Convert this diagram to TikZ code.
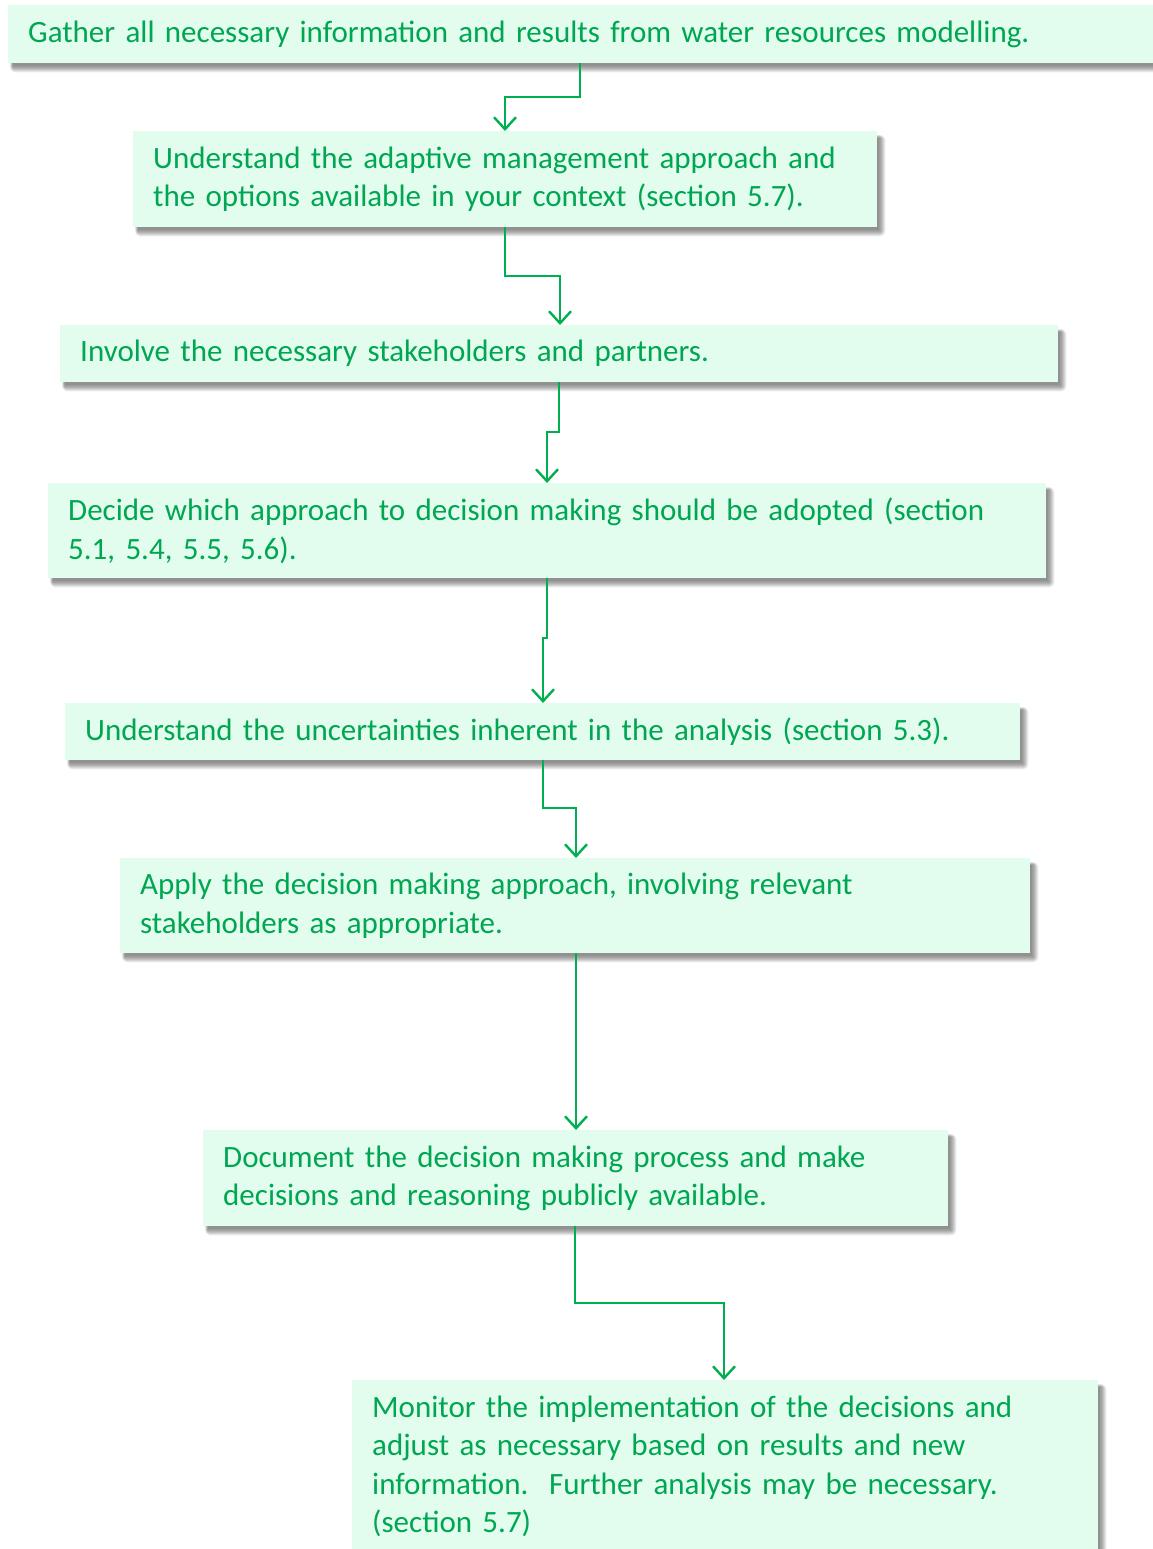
\documentclass[tikz,border=0pt]{standalone}
\usepackage{fontspec}
\setmainfont{Carlito}
\usetikzlibrary{arrows.meta,calc,backgrounds}
\definecolor{boxfill}{RGB}{226,253,238}
\definecolor{txtgreen}{RGB}{0,166,81}
\definecolor{arrgreen}{RGB}{0,176,80}
\tikzset{
  stepbox/.style={draw=none, fill=boxfill, anchor=north west, inner xsep=20pt, inner ysep=0pt,
    align=left, text=txtgreen, font=\fontsize{31}{38.5}\selectfont},
  conn/.style={draw=arrgreen, line width=2.4pt, -{Straight Barb[length=12pt,width=22pt,line width=2.4pt]}},
}
\newcommand{\mkbox}[6]{% name, x1, y1, x2, y2, text
  \pgfmathsetmacro{\bw}{#4-#2}\pgfmathsetmacro{\bh}{#5-#3}\pgfmathsetmacro{\tw}{#4-#2-40}
  \node[stepbox, minimum width=\bw pt, minimum height=\bh pt, text width=\tw pt] (#1) at (#2,#3) {#6};}
\begin{document}
\begin{tikzpicture}[x=1pt,y=-1pt]
\useasboundingbox (0,0) rectangle (1152,1549);
\mkbox{b1}{8}{5}{1170}{63}{Gather all necessary information and results from water resources modelling.}
\mkbox{b2}{133}{131}{877}{227}{Understand the adaptive management approach and\\the options available in your context (section 5.7).}
\mkbox{b3}{60}{325}{1058}{382}{Involve the necessary stakeholders and partners.}
\mkbox{b4}{48}{483}{1046}{578}{Decide which approach to decision making should be adopted (section\\5.1, 5.4, 5.5, 5.6).}
\mkbox{b5}{65}{703}{1020}{760}{Understand the uncertainties inherent in the analysis (section 5.3).}
\mkbox{b6}{120}{858}{1030}{953}{Apply the decision making approach, involving relevant\\stakeholders as appropriate.}
\mkbox{b7}{203}{1130}{948}{1226}{Document the decision making process and make\\decisions and reasoning publicly available.}
\mkbox{b8}{352}{1380}{1098}{1552}{Monitor the implementation of the decisions and\\adjust as necessary based on results and new\\information.\ \ Further analysis may be necessary.\\(section 5.7)}
\begin{pgfonlayer}{background}
\foreach \n in {b1,b2,b3,b4,b5,b6,b7,b8}{
  \foreach \k in {0,...,6}{
    \fill[black,opacity=0.08,rounded corners=\k pt] ($(\n.north west)+(5-0.5*\k,7-0.5*\k)$) rectangle ($(\n.south east)+(2+\k,3+\k)$);
  }
}
\end{pgfonlayer}
\draw[conn] (b1.south -| 580,0) |- (505,97) -- (b2.north -| 505,0);
\draw[conn] (b2.south -| 505,0) |- (560,276) -- (b3.north -| 560,0);
\draw[conn] (b3.south -| 559,0) |- (547,432) -- (b4.north -| 547,0);
\draw[conn] (b4.south -| 547,0) |- (543,638) -- (b5.north -| 543,0);
\draw[conn] (b5.south -| 543,0) |- (576,808) -- (b6.north -| 576,0);
\draw[conn] (b6.south -| 576,0) -- (b7.north -| 576,0);
\draw[conn] (b7.south -| 575,0) |- (724,1303) -- (b8.north -| 724,0);
\end{tikzpicture}
\end{document}
